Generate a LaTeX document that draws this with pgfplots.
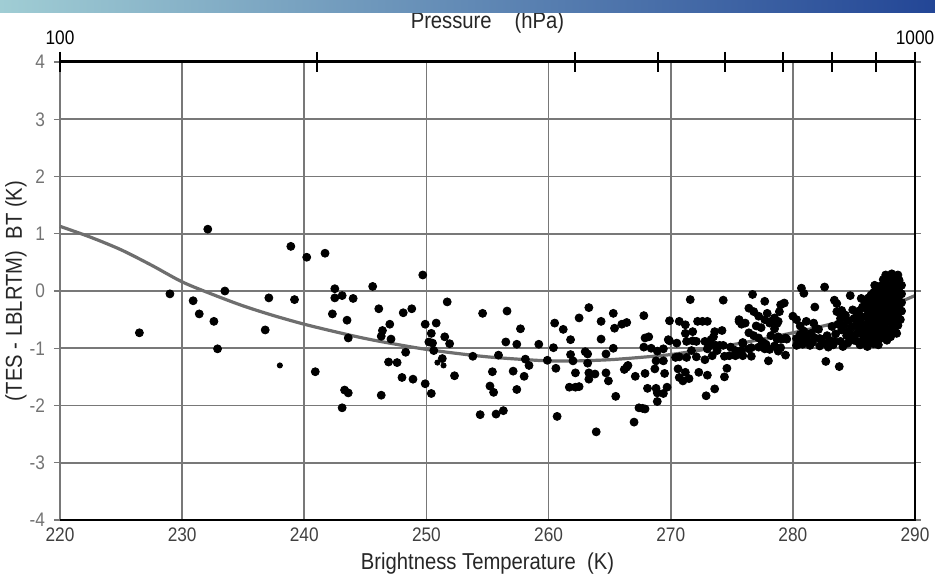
\documentclass[border=0pt]{standalone}
\usepackage{fontspec}
\setmainfont{Liberation Sans}[FakeStretch=0.88]
\usepackage{pgfplots}
\pgfplotsset{compat=1.18}
\usepackage{pgfplotstable}
\definecolor{gridc}{RGB}{120,120,120}
\definecolor{curvec}{RGB}{110,110,110}
\definecolor{bnA}{RGB}{160,205,212}
\definecolor{bnB}{RGB}{80,150,175}
\definecolor{bnC}{RGB}{35,70,150}

\pgfplotstableread{
x y
226.5 -0.73
229.0 -0.05
230.9 -0.17
231.4 -0.40
232.1 1.08
232.6 -0.53
232.9 -1.01
233.5 0.00
236.8 -0.68
237.1 -0.12
238.9 0.78
239.2 -0.15
240.2 0.59
241.7 0.66
242.5 0.04
242.5 -0.12
243.1 -0.08
244.0 -0.13
245.6 0.08
249.7 0.28
242.3 -0.40
243.5 -0.51
246.1 -0.31
248.1 -0.38
248.8 -0.31
251.7 -0.19
247.0 -0.58
246.4 -0.69
246.3 -0.79
247.1 -0.84
243.6 -0.82
249.9 -0.58
250.8 -0.56
250.4 -0.74
251.5 -0.80
250.2 -0.89
250.5 -0.91
251.9 -0.92
250.6 -1.04
248.3 -1.07
251.3 -1.18
246.9 -1.24
247.6 -1.25
240.9 -1.41
252.3 -1.48
248.0 -1.51
248.9 -1.54
249.9 -1.62
250.4 -1.79
243.3 -1.73
243.6 -1.78
246.3 -1.82
243.1 -2.04
253.8 -1.14
254.6 -0.39
256.6 -0.35
257.7 -0.66
256.5 -0.89
257.4 -0.93
259.2 -0.93
255.9 -1.12
258.1 -1.19
258.4 -1.30
259.9 -1.21
255.4 -1.41
257.1 -1.40
258.0 -1.49
255.2 -1.66
255.5 -1.77
257.4 -1.72
254.4 -2.16
255.7 -2.15
256.3 -2.09
263.3 -0.29
260.5 -0.56
261.2 -0.67
262.5 -0.47
264.3 -0.53
265.3 -0.39
265.4 -0.65
266.0 -0.58
266.4 -0.55
267.8 -0.43
261.8 -0.85
264.3 -0.84
260.4 -0.99
260.6 -1.35
261.8 -1.11
262.0 -1.22
263.0 -1.06
263.2 -1.10
264.7 -1.10
265.3 -1.00
263.2 -1.26
262.2 -1.43
263.3 -1.43
263.8 -1.45
263.3 -1.54
264.9 -1.57
264.7 -1.43
261.7 -1.68
262.2 -1.68
262.5 -1.67
266.2 -1.37
266.4 -1.33
266.5 -1.30
265.5 -1.84
267.1 -1.49
267.9 -0.82
268.2 -0.80
267.8 -0.98
268.4 -1.00
268.9 -1.05
269.4 -1.01
268.8 -1.22
269.4 -1.22
268.7 -1.36
267.9 -1.44
269.5 -1.44
268.1 -1.70
268.8 -1.70
268.9 -1.78
269.4 -1.79
268.9 -1.93
269.7 -1.68
267.4 -2.04
267.7 -2.05
267.9 -2.06
260.7 -2.19
267.0 -2.29
263.9 -2.46
269.8 -0.85
269.9 -0.52
270.7 -0.53
271.2 -0.59
271.6 -0.15
274.3 -0.16
275.6 -0.53
272.2 -0.53
272.6 -0.53
273.0 -0.53
271.2 -0.74
271.8 -0.71
274.2 -0.69
273.6 -0.71
269.9 -0.87
270.5 -0.91
271.3 -0.88
272.1 -0.88
272.8 -0.88
273.3 -0.85
273.5 -0.80
273.2 -0.95
273.7 -0.95
273.0 -1.01
274.3 -0.95
274.9 -0.98
275.3 -1.04
270.4 -1.16
270.7 -1.15
271.3 -1.16
272.1 -1.15
272.8 -1.20
273.4 -1.13
274.4 -1.14
275.3 -1.13
270.6 -1.36
271.2 -1.42
272.3 -1.42
271.5 -1.53
270.7 -1.51
271.0 -1.57
273.0 -1.47
274.4 -1.50
274.6 -1.35
273.6 -1.71
272.9 -1.83
271.7 -1.04
271.8 -0.87
274.0 -0.95
273.8 -1.04
274.8 -1.13
275.4 -1.10
275.8 -1.04
276.4 -1.01
275.9 -0.92
276.7 -0.06
277.7 -0.18
276.4 -0.30
276.8 -0.36
277.2 -0.44
277.9 -0.39
277.7 -0.50
278.2 -0.53
279.0 -0.24
279.3 -0.21
278.9 -0.36
278.5 -0.47
278.8 -0.53
275.6 -0.50
276.1 -0.56
275.8 -0.58
277.0 -0.61
277.4 -0.64
276.4 -0.73
276.8 -0.78
277.2 -0.82
278.2 -0.78
278.8 -0.80
279.4 -0.82
277.8 -0.93
278.5 -0.96
279.0 -0.99
275.9 -0.90
276.6 -0.99
275.9 -1.13
276.6 -1.14
278.1 -1.02
278.8 -1.05
279.4 -1.12
278.0 -1.22
277.5 -0.89
277.2 -0.98
277.7 -1.01
278.7 -0.84
279.1 -0.84
279.5 -0.84
278.1 -0.56
278.5 -0.66
278.7 -0.57
280.0 -0.44
280.3 -0.50
280.6 -0.61
280.7 0.05
280.9 -0.04
282.6 0.07
281.8 -0.28
281.1 -0.53
281.7 -0.56
282.1 -0.67
280.6 -0.76
281.1 -0.79
281.8 -0.82
282.3 -0.84
280.3 -0.95
280.8 -0.93
281.4 -0.95
282.2 -0.96
282.9 -0.98
282.7 -1.23
283.8 -1.32
283.4 -0.16
283.6 -0.22
284.7 -0.08
283.6 -0.36
284.0 -0.34
284.3 -0.42
283.9 -0.48
284.5 -0.51
285.0 -0.48
285.6 -0.13
285.9 -0.19
286.3 -0.25
286.7 0.10
287.6 0.28
288.0 0.24
288.5 0.24
288.5 0.16
287.2 -0.77
287.7 -0.86
288.0 -0.80
288.5 -0.74
288.3 -0.48
280.3 -0.83
280.8 -0.88
281.2 -0.86
281.5 -0.74
281.9 -0.65
282.2 -0.83
282.5 -0.91
283.0 -0.86
283.3 -0.94
283.9 -0.88
284.1 -0.97
284.5 -0.91
285.0 -0.86
285.2 -0.74
285.5 -0.94
285.9 -0.91
286.3 -0.88
286.7 -0.80
283.2 -0.62
283.5 -0.75
284.0 -0.68
284.4 -0.78
284.8 -0.62
284.9 -0.33
285.1 -0.61
285.4 -0.35
285.5 -0.52
285.6 -0.68
285.8 -0.82
286.0 -0.31
286.1 -0.45
286.0 -0.59
286.2 -0.73
286.1 -0.97
286.4 -0.07
286.5 -0.18
286.4 -0.37
286.5 -0.51
286.4 -0.64
286.6 -0.92
286.8 0.01
286.9 -0.14
286.8 -0.29
286.9 -0.44
286.8 -0.61
286.9 -0.74
286.8 -0.88
287.2 0.09
287.3 -0.06
287.2 -0.21
287.3 -0.34
287.2 -0.49
287.3 -0.63
287.6 0.14
287.5 0.01
287.6 -0.16
287.5 -0.31
287.6 -0.44
287.5 -0.59
287.6 -0.73
288.0 0.09
287.9 -0.06
288.0 -0.22
287.9 -0.37
288.0 -0.52
287.9 -0.66
288.3 0.17
288.4 0.05
288.3 -0.09
288.4 -0.24
288.3 -0.36
288.4 -0.57
288.3 -0.66
288.7 0.19
288.7 0.06
288.6 -0.11
288.7 -0.26
288.6 -0.39
288.8 -0.50
287.0 -0.94
287.4 -0.82
288.1 0.30
285.3 -0.42
285.3 -0.58
285.3 -0.88
285.7 -0.28
285.7 -0.45
285.7 -0.60
285.7 -0.75
285.7 -0.90
286.2 -0.12
286.2 -0.38
286.2 -0.52
286.2 -0.66
286.2 -0.83
286.6 -0.03
286.6 -0.25
286.6 -0.44
286.6 -0.57
286.6 -0.72
286.6 -0.85
287.0 0.05
287.0 -0.10
287.0 -0.25
287.0 -0.40
287.0 -0.55
287.0 -0.68
287.0 -0.85
287.4 0.20
287.4 0.06
287.4 -0.12
287.4 -0.27
287.4 -0.41
287.4 -0.55
287.4 -0.70
287.8 0.22
287.8 0.07
287.8 -0.09
287.8 -0.25
287.8 -0.38
287.8 -0.52
287.8 -0.68
287.8 -0.80
288.2 0.26
288.2 0.12
288.2 -0.02
288.2 -0.16
288.2 -0.30
288.2 -0.44
288.2 -0.60
288.2 -0.72
288.6 0.28
288.6 0.12
288.6 -0.03
288.6 -0.18
288.6 -0.33
288.6 -0.46
288.6 -0.60
288.9 0.10
288.9 -0.05
288.9 -0.20
288.9 -0.35
283.7 -0.58
284.2 -0.60
284.6 -0.70
284.8 -0.80
283.4 -0.88
282.8 -0.78
281.6 -0.90
280.9 -0.70
}\pts

\pgfplotstableread{
x y
238.0 -1.30
250.9 -1.25
251.4 -1.30
}\ptsmall

\pgfplotstableread{
x y
220 1.13
222.5 0.94
225 0.72
227.5 0.45
230 0.16
232.5 -0.06
235 -0.26
237.5 -0.43
240 -0.58
242.5 -0.71
245 -0.83
247.5 -0.93
250 -1.02
252.5 -1.09
255 -1.15
257.5 -1.19
260 -1.22
262.5 -1.22
265 -1.20
267.5 -1.16
270 -1.11
272.5 -1.03
275 -0.94
277.5 -0.84
280 -0.73
282.5 -0.61
285 -0.47
287.5 -0.30
290 -0.08
}\curve

\begin{document}
\begin{tikzpicture}
\useasboundingbox (-30pt,-30pt) rectangle (437.5pt,260pt);
\begin{axis}[
  name=main,
  at={(0pt,0pt)}, anchor=south west,
  scale only axis, width=427.5pt, height=229pt,
  xmin=220, xmax=290, ymin=-4, ymax=4,
  xtick={220,230,...,290}, ytick={-4,-3,...,4},
  grid=major,
  major grid style={draw=gridc, line width=0.8pt},
  axis line style={draw=none},
  xtick style={draw=none},
  ytick style={draw=gridc, line width=0.6pt},
  tick align=outside, major tick length=3pt,
  /pgf/number format/assume math mode=true,
  tick label style={font=\fontsize{9.8}{11}\selectfont, text=black!75},
  yticklabel style={xshift=-1pt, text=black!55},
  xticklabel style={yshift=2.5pt},
  clip=false,
]
\addplot[curvec, line width=1.6pt, smooth] table[x=x,y=y] {\curve};
\addplot[only marks, mark=*, mark size=2pt, black] table[x=x,y=y] {\pts};
\addplot[only marks, mark=*, mark size=1.3pt, black] table[x=x,y=y] {\ptsmall};
\draw[black, line width=1.2pt] (rel axis cs:0,0) -- (rel axis cs:1,0) -- (rel axis cs:1,1);
\node[font=\fontsize{11.5}{13}\selectfont, text=black!85] at ([yshift=-22pt]rel axis cs:0.5,0) {Brightness Temperature\ \ (K)};
\node[font=\fontsize{11.5}{13}\selectfont, text=black!85, rotate=90] at ([xshift=-22pt]rel axis cs:0,0.5) {(TES - LBLRTM)\ \ BT (K)};
\node[font=\fontsize{11.5}{13}\selectfont, text=black!85, anchor=base] at ([yshift=17pt]rel axis cs:0.5,1) {Pressure\quad(hPa)};
\end{axis}
\begin{axis}[
  at={(0pt,0pt)}, anchor=south west,
  scale only axis, width=427.5pt, height=229pt,
  xmode=log, xmin=100, xmax=1000, ymin=0, ymax=1,
  axis x line*=top, axis y line=none,
  axis line style={black, line width=1.5pt, -},
  xtick={100,200,400,500,600,700,800,900,1000},
  xticklabels={100,,,,,,,,1000},
  minor xtick={},
  tick align=center, major tick length=10pt,
  xtick style={black, line width=1pt},
  /pgf/number format/assume math mode=true,
  tick label style={font=\fontsize{9.8}{11}\selectfont, text=black},
]
\end{axis}
\shade[left color=bnA, middle color=bnB, right color=bnC]
  (-30pt,254pt) rectangle (437.5pt,260pt);
\end{tikzpicture}
\end{document}
